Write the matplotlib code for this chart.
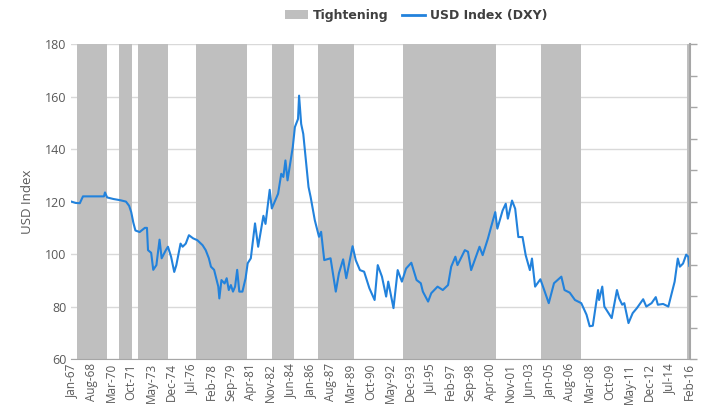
import numpy as np
import pandas as pd
import matplotlib
matplotlib.use('Agg')
import matplotlib.pyplot as plt
from matplotlib.patches import Patch
from matplotlib.lines import Line2D

# DXY: months since Jan-1967 and index value
mes = [0, 4, 8, 11, 20, 31, 32, 34, 40, 47, 52, 55, 57, 59, 61, 65, 70, 72, 73, 76,
       78, 81, 84, 86, 90, 92, 95, 98, 100, 104, 106, 109, 112, 116, 120, 125, 128, 131, 133, 136,
       138, 140, 141, 143, 146, 148, 150, 152, 154, 156, 158, 160, 163, 166, 168, 171, 175, 178, 183, 185,
       189, 191, 197, 200, 202, 204, 206, 211, 213, 216, 217, 219, 221, 223, 226, 228, 230, 232, 236, 238,
       241, 247, 252, 255, 259, 262, 268, 271, 275, 279, 284, 289, 292, 296, 300, 302, 307, 311, 315, 319,
       324, 329, 333, 335, 340, 343, 349, 354, 359, 362, 366, 368, 375, 378, 381, 389, 392, 397, 400, 404,
       406, 411, 414, 416, 420, 423, 426, 430, 433, 437, 439, 442, 447, 449, 455, 460, 467, 470, 475, 480,
       486, 491, 494, 497, 502, 503, 506, 508, 515, 520, 522, 525, 527, 531, 535, 539, 545, 548, 553, 557,
       559, 564, 569, 573, 575, 578, 580, 583, 586, 588, 589]
dxy = [120.0, 119.5, 119.4, 122.0, 122.0, 122.0, 123.5, 121.6, 121.0, 120.5, 120.0, 118.4, 116.0, 112.0, 109.0, 108.4, 110.0, 110.0, 101.5, 100.5,
       94.0, 95.8, 105.5, 98.4, 101.5, 102.8, 99.0, 93.2, 95.8, 104.0, 102.8, 104.0, 107.2, 106.0, 105.3, 103.4, 101.5, 98.4, 95.2, 94.0,
       90.8, 87.6, 83.1, 90.1, 88.8, 90.8, 86.3, 88.2, 85.7, 87.6, 94.0, 85.7, 85.7, 90.8, 96.5, 98.4, 111.7, 102.8, 114.6, 111.5,
       124.5, 117.4, 123.0, 130.6, 129.4, 135.7, 128.1, 140.8, 148.4, 151.5, 160.4, 149.6, 145.8, 137.6, 125.6, 121.8, 117.3, 112.9, 106.6, 108.5,
       97.7, 98.4, 85.7, 92.7, 98.0, 90.8, 103.0, 97.7, 93.9, 93.3, 87.0, 82.5, 95.8, 91.4, 83.8, 89.5, 79.4, 93.9, 89.5, 94.5,
       96.7, 90.1, 88.9, 85.7, 81.9, 85.1, 87.6, 86.3, 88.2, 95.2, 99.0, 95.8, 101.5, 100.9, 93.9, 102.8, 99.6, 105.9, 110.3, 116.0,
       109.7, 116.6, 119.2, 113.5, 120.4, 117.3, 106.5, 106.5, 99.6, 93.9, 98.3, 87.6, 90.4, 88.2, 81.3, 88.9, 91.4, 86.3, 85.3, 82.5,
       81.3, 76.9, 72.5, 72.7, 86.3, 82.5, 87.6, 80.0, 75.6, 86.3, 83.2, 80.7, 81.3, 73.7, 77.5, 79.4, 82.8, 80.0, 81.3, 83.6,
       80.7, 81.0, 80.0, 86.3, 89.5, 98.3, 95.2, 96.4, 99.8, 99.0, 95.5]

# periodos de aperto (inicio, fim) em meses desde Jan-1967
aperto_ini = [6, 46, 64, 119, 192, 236, 317, 448, 587]
aperto_fim = [34, 58, 93, 168, 213, 270, 405, 486, 590]

n_meses = 590
pos_ticks = list(range(0, n_meses, 19))
rotulos = pd.date_range('1967-01-01', periods=len(pos_ticks), freq='19MS').strftime('%b-%y')

cor_linha = '#2282dc'
cor_barra = '#bfbfbf'
cor_texto = '#595959'

fig = plt.figure(figsize=(7.09, 4.17), dpi=100)
ax = fig.add_axes([0.100, 0.139, 0.873, 0.755])

for ini, fim in zip(aperto_ini, aperto_fim):
    ax.axvspan(ini - 0.5, fim - 0.5, color=cor_barra, lw=0, zorder=1)

ax.plot(mes, dxy, color=cor_linha, lw=1.5, zorder=3)

ax.set_xlim(-0.5, n_meses - 0.5)
ax.set_ylim(60, 180)
ax.set_yticks(range(60, 181, 20))
ax.set_xticks(pos_ticks)
ax.set_xticklabels(rotulos, rotation=90, fontsize=8.5, family='Open Sans', color=cor_texto)
for t in ax.get_yticklabels():
    t.set_fontsize(9)
    t.set_family('Open Sans')
    t.set_color(cor_texto)
ax.tick_params(axis='both', length=0, pad=3)
ax.grid(axis='y', color='#d9d9d9', lw=1)
ax.set_axisbelow(True)
for s in ['left', 'top', 'right']:
    ax.spines[s].set_visible(False)
ax.spines['bottom'].set_color('#a6a6a6')
ax.set_ylabel('USD Index', fontsize=9.5, family='Open Sans', color=cor_texto, labelpad=8)

# eixo secundario (sem rotulos)
ax2 = ax.twinx()
ax2.set_ylim(0, 1)
ax2.set_yticks(np.linspace(0, 1, 11))
ax2.set_yticklabels([])
ax2.tick_params(axis='y', length=5, color='#a6a6a6', width=1)
for s in ['left', 'top', 'bottom']:
    ax2.spines[s].set_visible(False)
ax2.spines['right'].set_color('#a6a6a6')
ax2.spines['right'].set_linewidth(1.5)

handles = [Patch(facecolor=cor_barra, edgecolor='none'),
           Line2D([0], [0], color=cor_linha, lw=2)]
leg = fig.legend(handles, ['Tightening', 'USD Index (DXY)'], loc='center',
                 bbox_to_anchor=(0.587, 0.963), ncol=2, frameon=False,
                 prop={'weight': 'bold', 'size': 9}, handlelength=1.8,
                 handletextpad=0.4, columnspacing=1.1)
for t in leg.get_texts():
    t.set_color('#404040')

fig.savefig('out.png', dpi=100)
